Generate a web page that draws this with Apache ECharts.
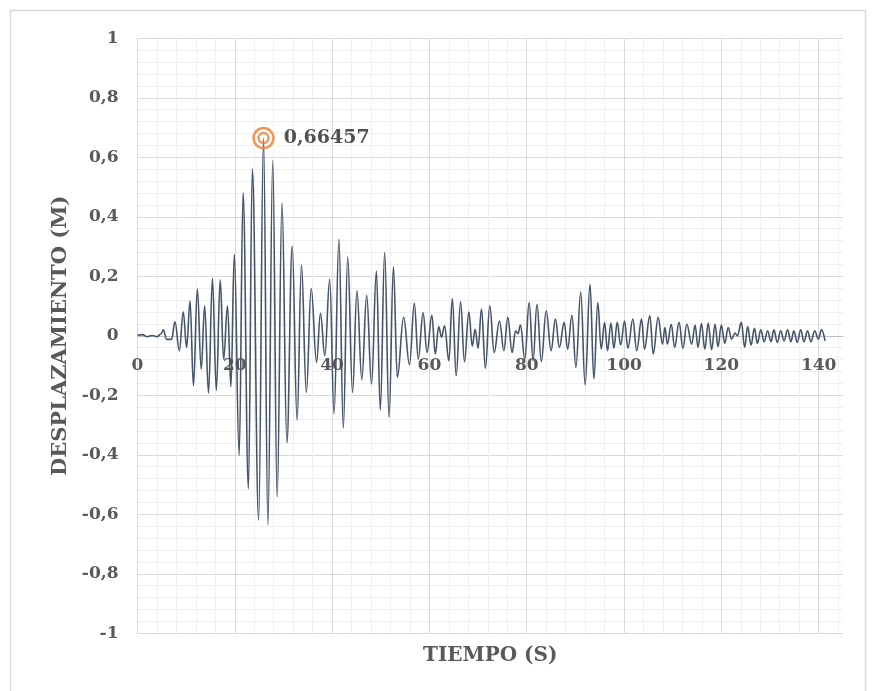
<!DOCTYPE html>
<html>
<head>
<meta charset="utf-8">
<script src="https://cdn.jsdelivr.net/npm/echarts@6/dist/echarts.min.js"></script>
<style>
html,body{margin:0;padding:0;background:#ffffff;}
#chart{width:874px;height:691px;}
</style>
</head>
<body>
<div id="chart"></div>
<script>
// Time (s) of each read point
const tiempo = [
  0, 1, 2, 3, 4, 4.8, 5.3, 6.0, 7.0, 7.7,
  8.6, 9.4, 10.1, 10.8, 11.5, 12.3, 13.1, 13.8, 14.6, 15.4,
  16.2, 17.0, 17.7, 18.5, 19.2, 19.9, 20.9, 21.7, 22.8, 23.6,
  24.9, 25.9, 26.8, 27.8, 28.7, 29.7, 30.7, 31.8, 32.8, 33.7,
  34.7, 35.7, 36.8, 37.6, 38.5, 39.5, 40.4, 41.4, 42.3, 43.2,
  44.2, 45.1, 46.1, 47.1, 48.1, 49.1, 49.9, 50.8, 51.7, 52.6,
  53.4, 54.7, 55.9, 56.9, 57.7, 58.7, 59.5, 60.5, 61.2, 61.9,
  62.5, 63.1, 64.0, 64.7, 65.5, 66.4, 67.2, 68.1, 68.8, 69.4,
  70.0, 70.7, 71.5, 72.4, 73.3, 74.4, 75.3, 76.1, 77.0, 77.7,
  78.2, 78.7, 79.6, 80.5, 81.3, 82.1, 83.0, 84.0, 85.0, 85.9,
  86.7, 87.7, 88.4, 89.3, 90.1, 91.1, 92.0, 93.0, 93.8, 94.6,
  95.3, 96.0, 96.6, 97.3, 97.9, 98.6, 99.3, 100.1, 100.8, 101.8,
  102.6, 103.6, 104.2, 105.3, 106.0, 107.0, 107.9, 108.4, 108.9, 109.7,
  110.4, 111.3, 112.1, 112.9, 113.9, 114.6, 115.2, 115.9, 116.6, 117.3,
  118.0, 118.7, 119.3, 120.0, 120.7, 121.4, 122.1, 122.8, 123.3, 124.1,
  124.8, 125.4, 126.1, 126.8, 127.4, 128.1, 128.8, 129.5, 130.2, 130.8,
  131.5, 132.2, 132.9, 133.6, 134.3, 134.9, 135.6, 136.3, 137.0, 137.7,
  138.4, 139.2, 139.9, 140.6, 141.3
];
// Displacement (m)
const desplazamiento = [
  0.002, 0.004, -0.003, 0.001, -0.003, 0.006, 0.020, -0.012, -0.012, 0.047,
  -0.050, 0.080, -0.039, 0.117, -0.168, 0.157, -0.112, 0.101, -0.193, 0.193,
  -0.184, 0.188, -0.078, 0.101, -0.171, 0.274, -0.402, 0.481, -0.514, 0.561,
  -0.620, 0.66457, -0.637, 0.590, -0.542, 0.447, -0.360, 0.302, -0.283, 0.238,
  -0.190, 0.159, -0.089, 0.076, -0.067, 0.190, -0.262, 0.324, -0.310, 0.265,
  -0.190, 0.151, -0.147, 0.136, -0.162, 0.218, -0.249, 0.280, -0.274, 0.231,
  -0.140, 0.062, -0.097, 0.109, -0.078, 0.077, -0.056, 0.069, -0.061, 0.031,
  -0.005, 0.034, -0.084, 0.125, -0.134, 0.114, -0.087, 0.080, -0.034, 0.022,
  -0.042, 0.090, -0.109, 0.101, -0.056, 0.050, -0.050, 0.062, -0.056, 0.017,
  0.007, 0.036, -0.078, 0.112, -0.084, 0.106, -0.087, 0.084, -0.050, 0.056,
  -0.039, 0.045, -0.045, 0.069, -0.106, 0.147, -0.165, 0.173, -0.145, 0.112,
  -0.045, 0.045, -0.050, 0.043, -0.042, 0.045, -0.031, 0.050, -0.042, 0.056,
  -0.050, 0.056, -0.045, 0.067, -0.061, 0.062, -0.028, 0.028, -0.028, 0.039,
  -0.039, 0.045, -0.042, 0.039, -0.028, 0.036, -0.039, 0.041, -0.045, 0.042,
  -0.047, 0.039, -0.036, 0.036, -0.025, 0.028, -0.011, 0.009, 0.000, 0.045,
  -0.039, 0.031, -0.031, 0.025, -0.025, 0.020, -0.020, 0.017, -0.020, 0.020,
  -0.022, 0.017, -0.017, 0.020, -0.020, 0.017, -0.022, 0.020, -0.020, 0.017,
  -0.020, 0.017, -0.011, 0.020, -0.017
];
const xTickLabels = [0, 20, 40, 60, 80, 100, 120, 140];
const yTickLabels = [-1, -0.8, -0.6, -0.4, -0.2, 0, 0.2, 0.4, 0.6, 0.8, 1];
const peakTiempo = [25.9];
const peakValor = [0.66457];

const fmtComma = v => String(v).replace('.', ',');
const FONT = 'DejaVu Serif';
const TXT = '#595959';

const lineData = tiempo.map((t, i) => [t, desplazamiento[i]]);
const peakData = peakTiempo.map((t, i) => [t, peakValor[i]]);

const H = 691, TOP = 38.3, BOTTOM = 57.7, LEFT = 137.5, RIGHT = 31;
const Y_MIN = -1, Y_MAX = 1;
// pixel row of y = 0 inside the plot (layout only): the x axis crosses there
const zeroRow = TOP + (H - TOP - BOTTOM) * (Y_MAX - 0) / (Y_MAX - Y_MIN);

const chart = echarts.init(document.getElementById('chart'), null, {renderer: 'canvas'});
chart.setOption({
  animation: false,
  backgroundColor: '#ffffff',
  graphic: [{
    type: 'rect', z: -10, silent: true,
    shape: {x: 10.5, y: 10.5, width: 855, height: 700},
    style: {fill: 'none', stroke: '#d9d9d9', lineWidth: 1.5}
  }],
  grid: [
    {left: LEFT, right: RIGHT, top: TOP, bottom: BOTTOM, containLabel: false},
    {left: LEFT, right: RIGHT, top: TOP, bottom: BOTTOM, containLabel: false},
    {left: LEFT, right: RIGHT, top: TOP, bottom: H - zeroRow, containLabel: false}
  ],
  xAxis: [
    { // minor vertical gridlines + axis title
      gridIndex: 0, type: 'value', min: 0, max: 145, interval: 4, position: 'bottom',
      axisLine: {show: false, onZero: false}, axisTick: {show: false}, axisLabel: {show: false},
      splitLine: {show: true, showMaxLine: false, lineStyle: {color: '#efefef', width: 1}},
      name: 'TIEMPO (S)', nameLocation: 'middle', nameGap: 12,
      nameTextStyle: {fontFamily: FONT, fontWeight: 'bold', fontSize: 20, color: TXT}
    },
    { // main scale with major gridlines
      gridIndex: 1, type: 'value', min: 0, max: 145, interval: 20, position: 'bottom',
      axisLine: {show: false, onZero: false}, axisTick: {show: false}, axisLabel: {show: false},
      splitLine: {show: true, showMaxLine: false, lineStyle: {color: '#d9d9d9', width: 1}}
    },
    { // axis line and tick labels crossing at y = 0
      gridIndex: 2, type: 'value', min: 0, max: 145, interval: 20, position: 'bottom',
      axisLine: {show: true, onZero: false, lineStyle: {color: '#bfbfbf', width: 1}},
      axisTick: {show: false},
      splitLine: {show: false},
      axisLabel: {
        margin: 21, fontFamily: FONT, fontWeight: 'bold', fontSize: 17, color: TXT,
        showMaxLabel: false,
        formatter: v => (xTickLabels.indexOf(v) >= 0 ? String(v) : '')
      }
    }
  ],
  yAxis: [
    {
      gridIndex: 0, type: 'value', min: Y_MIN, max: Y_MAX, interval: 0.2,
      axisLine: {show: false}, axisTick: {show: false}, axisLabel: {show: false},
      splitLine: {show: false}
    },
    {
      gridIndex: 1, type: 'value', min: Y_MIN, max: Y_MAX, interval: 0.2,
      axisLine: {show: false, onZero: false}, axisTick: {show: false},
      minorTick: {show: false, splitNumber: 5},
      minorSplitLine: {show: true, lineStyle: {color: '#efefef', width: 1}},
      splitLine: {show: true, lineStyle: {color: '#d9d9d9', width: 1}},
      axisLabel: {
        margin: 19, fontFamily: FONT, fontWeight: 'bold', fontSize: 17, color: TXT,
        formatter: v => {
          const r = Math.round(v * 10) / 10;
          const hit = yTickLabels.find(y => Math.abs(y - r) < 1e-9);
          return hit === undefined ? '' : fmtComma(hit === 0 ? 0 : hit);
        }
      },
      name: 'DESPLAZAMIENTO (M)', nameLocation: 'middle', nameGap: 63,
      nameTextStyle: {fontFamily: FONT, fontWeight: 'bold', fontSize: 21, color: TXT}
    },
    {
      gridIndex: 2, type: 'value', min: 0, max: Y_MAX,
      axisLine: {show: false}, axisTick: {show: false}, axisLabel: {show: false},
      splitLine: {show: false}
    }
  ],
  series: [
    {
      type: 'line', xAxisIndex: 1, yAxisIndex: 1,
      data: lineData, showSymbol: false, silent: true,
      smooth: 0.4, smoothMonotone: 'x',
      lineStyle: {color: '#44546a', width: 1.6}, z: 3
    },
    {
      type: 'scatter', xAxisIndex: 1, yAxisIndex: 1, silent: true, z: 5,
      data: peakData, symbol: 'circle', symbolSize: 20,
      itemStyle: {color: 'rgba(0,0,0,0)', borderColor: '#ed7d31', borderWidth: 2.5},
      label: {
        show: true, position: 'right', distance: 9,
        fontFamily: FONT, fontWeight: 'bold', fontSize: 19, color: '#262626',
        formatter: p => fmtComma(p.value[1])
      }
    },
    {
      type: 'scatter', xAxisIndex: 1, yAxisIndex: 1, silent: true, z: 5,
      data: peakData, symbol: 'circle', symbolSize: 10,
      itemStyle: {color: 'rgba(0,0,0,0)', borderColor: '#ed7d31', borderWidth: 2.5}
    }
  ]
});
</script>
</body>
</html>
